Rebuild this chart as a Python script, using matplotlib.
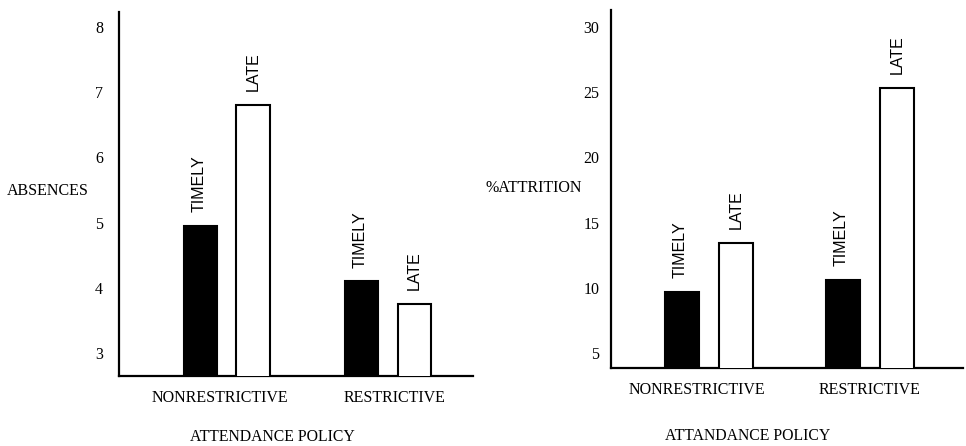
import matplotlib
matplotlib.use("Agg")
import matplotlib.pyplot as plt
import numpy as np

categories = ["NONRESTRICTIVE", "RESTRICTIVE"]
series_names = ["TIMELY", "LATE"]
absences_timely = [4.95, 4.10]
absences_late = [6.81, 3.75]
attrition_timely = [9.7, 10.6]
attrition_late = [13.45, 25.3]
abs_ticks = [3, 4, 5, 6, 7, 8]
attr_ticks = [5, 10, 15, 20, 25, 30]

serif = ["Liberation Serif", "DejaVu Serif"]
sans = ["Liberation Sans", "DejaVu Sans"]

W, H = 966, 446
fig = plt.figure(figsize=(W/100, H/100), dpi=100)
fig.patch.set_facecolor("white")

def panel(rect, timely, late, ylim, yticks, ylabel, ylabel_xy, xlabel, xlabel_xy,
          xlim, off, width, cat_shift, tickpad):
    ax = fig.add_axes(rect)
    x = np.arange(len(categories))
    ax.bar(x - off, timely, width, bottom=0, color="black", edgecolor="black", linewidth=1.5, zorder=3)
    ax.bar(x + off, late, width, bottom=0, color="white", edgecolor="black", linewidth=1.5, zorder=3)
    ax.set_ylim(*ylim)
    ax.set_xlim(*xlim)
    for spine in ["top", "right"]:
        ax.spines[spine].set_visible(False)
    for spine in ["left", "bottom"]:
        ax.spines[spine].set_linewidth(1.6)
    ax.set_yticks(yticks)
    ax.set_yticklabels([str(t) for t in yticks], fontfamily=serif, fontsize=11.5)
    ax.tick_params(axis="y", length=0, pad=tickpad)
    ax.set_xticks(x + np.array(cat_shift))
    ax.set_xticklabels(categories, fontfamily=serif, fontsize=11.5)
    ax.tick_params(axis="x", length=0, pad=10)
    for xi, v in zip(x - off, timely):
        ax.annotate(series_names[0], (xi, v), xytext=(-1, 10), textcoords="offset points",
                    rotation=90, ha="center", va="bottom", fontfamily=sans, fontsize=11.5)
    for xi, v in zip(x + off, late):
        ax.annotate(series_names[1], (xi, v), xytext=(0, 10), textcoords="offset points",
                    rotation=90, ha="center", va="bottom", fontfamily=sans, fontsize=11.5)
    fig.text(ylabel_xy[0]/W, 1-ylabel_xy[1]/H, ylabel, ha="left", va="center",
             fontfamily=serif, fontsize=11.5)
    fig.text(xlabel_xy[0]/W, 1-xlabel_xy[1]/H, xlabel, ha="center", va="center",
             fontfamily=serif, fontsize=11.3)
    return ax

ax1 = panel([119/W, 1-376/H, 354/W, 364/H], absences_timely, absences_late,
            (2.65, 8.23), abs_ticks, "ABSENCES", (7, 191), "ATTENDANCE POLICY", (272, 437),
            (-0.666, 1.526), 0.164, 0.205, [-0.04, 0.04], 11.5)
ax2 = panel([611/W, 1-368/H, 352/W, 358/H], attrition_timely, attrition_late,
            (3.85, 31.3), attr_ticks, "%ATTRITION", (486, 188), "ATTANDANCE POLICY", (748, 436),
            (-0.609, 1.578), 0.168, 0.21, [-0.075, 0.0], 8.5)

fig.savefig("out.png", dpi=100, facecolor="white")
